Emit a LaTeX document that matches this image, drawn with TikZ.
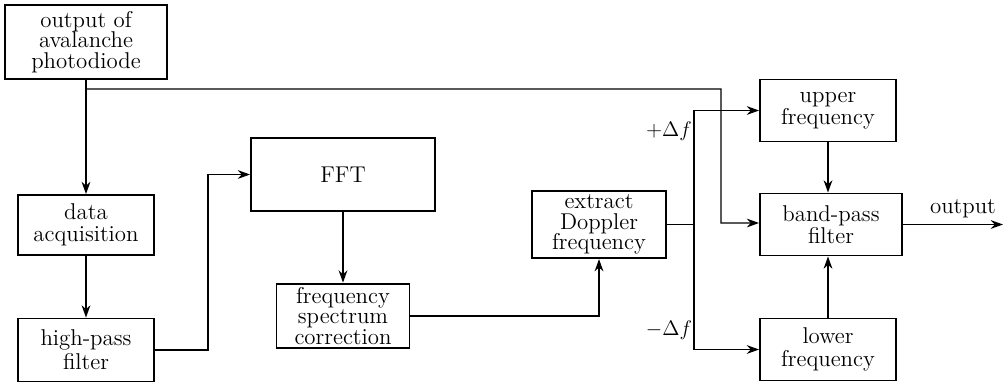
\documentclass[tikz,border=0pt]{standalone}
\usepackage{amsmath, tikz}
\usetikzlibrary{calc, arrows.meta}
\tikzstyle{block} = [rectangle, text centered, align = center, draw = black, line width = 1.1pt, inner sep = 2pt]
\tikzstyle{link} = [->, >={Stealth[length = 7pt, width = 5pt]}, line width = 0.8pt]

\begin{document}
\begin{tikzpicture}[node distance = 2.5cm, font = \fontsize{13}{11.8}\selectfont]
\useasboundingbox (0,0) rectangle (20.12,-7.64);
\node (apd) [block, minimum width = 3.24cm, minimum height = 1.48cm] at (1.72,-0.84) {output of\\avalanche\\photodiode};
\node (daq) [block, below of = apd, yshift = -1.16cm, minimum width = 2.72cm, minimum height = 1.2cm] {data\\[1pt]acquisition};
\node (hpf) [block, below of = daq, minimum width = 2.72cm, minimum height = 1.26cm] {high-pass\\[1pt]filter};
\node (fft) [block, right of = daq, xshift = 2.64cm, yshift = 1.01cm, minimum width = 3.68cm, minimum height = 1.46cm] {FFT};
\node (fsc) [block, below of = fft, yshift = -0.33cm, minimum width = 2.66cm, minimum height = 1.16cm] {frequency\\spectrum\\correction};
\node (edf) [block, right of = fft, xshift = 2.62cm, yshift = -1.0cm, minimum width = 2.68cm, minimum height = 1.26cm] {extract\\Doppler\\frequency};
\node (bpf) [block, right of = edf, xshift = 2.14cm, minimum width = 2.84cm, minimum height = 1.24cm] {band-pass\\[1pt]filter};
\node (upf) [block, above of = bpf, yshift = -0.22cm, xshift = -0.06cm, minimum width = 2.72cm, minimum height = 1.24cm] {upper\\[1pt]frequency};
\node (lwf) [block, below of = bpf, xshift = -0.06cm, minimum width = 2.72cm, minimum height = 1.24cm] {lower\\[1pt]frequency};

\coordinate (tap) at ($(apd.south)+(0,-0.18)$);
\coordinate (bend) at (14.42,-1.78);
\coordinate (fork) at ($(edf.east)+(0.54,0)$);
\coordinate (outEnd) at (20.06,-4.46);
\node (plusDf) at (13.38,-2.62) {$+\Delta f$};
\node (minusDf) at (13.38,-6.6) {$-\Delta f$};

\draw [link] (apd) -- (daq);
\draw [link] (tap) -- (bend) |- ($(bpf.west)+(0,0.03)$);
\draw [link] (daq) -- (hpf);
\draw [link] (hpf.east) -- ++(1.06,0) |- (fft.west);
\draw [link] (fft) -- (fsc);
\draw [link] (fsc.east) -| (edf.south);
\draw [line width = 0.8pt] (edf.east) -- (fork);
\draw [link] (fork) |- (upf.west);
\draw [link] (fork) |- (lwf.west);
\draw [link] (upf.south) -- (upf.south |- bpf.north);
\draw [link] (lwf.north) -- (lwf.north |- bpf.south);
\draw [link] (bpf.east) -- node [above, pos = 0.6] {output} (bpf.east -| outEnd);
\end{tikzpicture}
\end{document}
